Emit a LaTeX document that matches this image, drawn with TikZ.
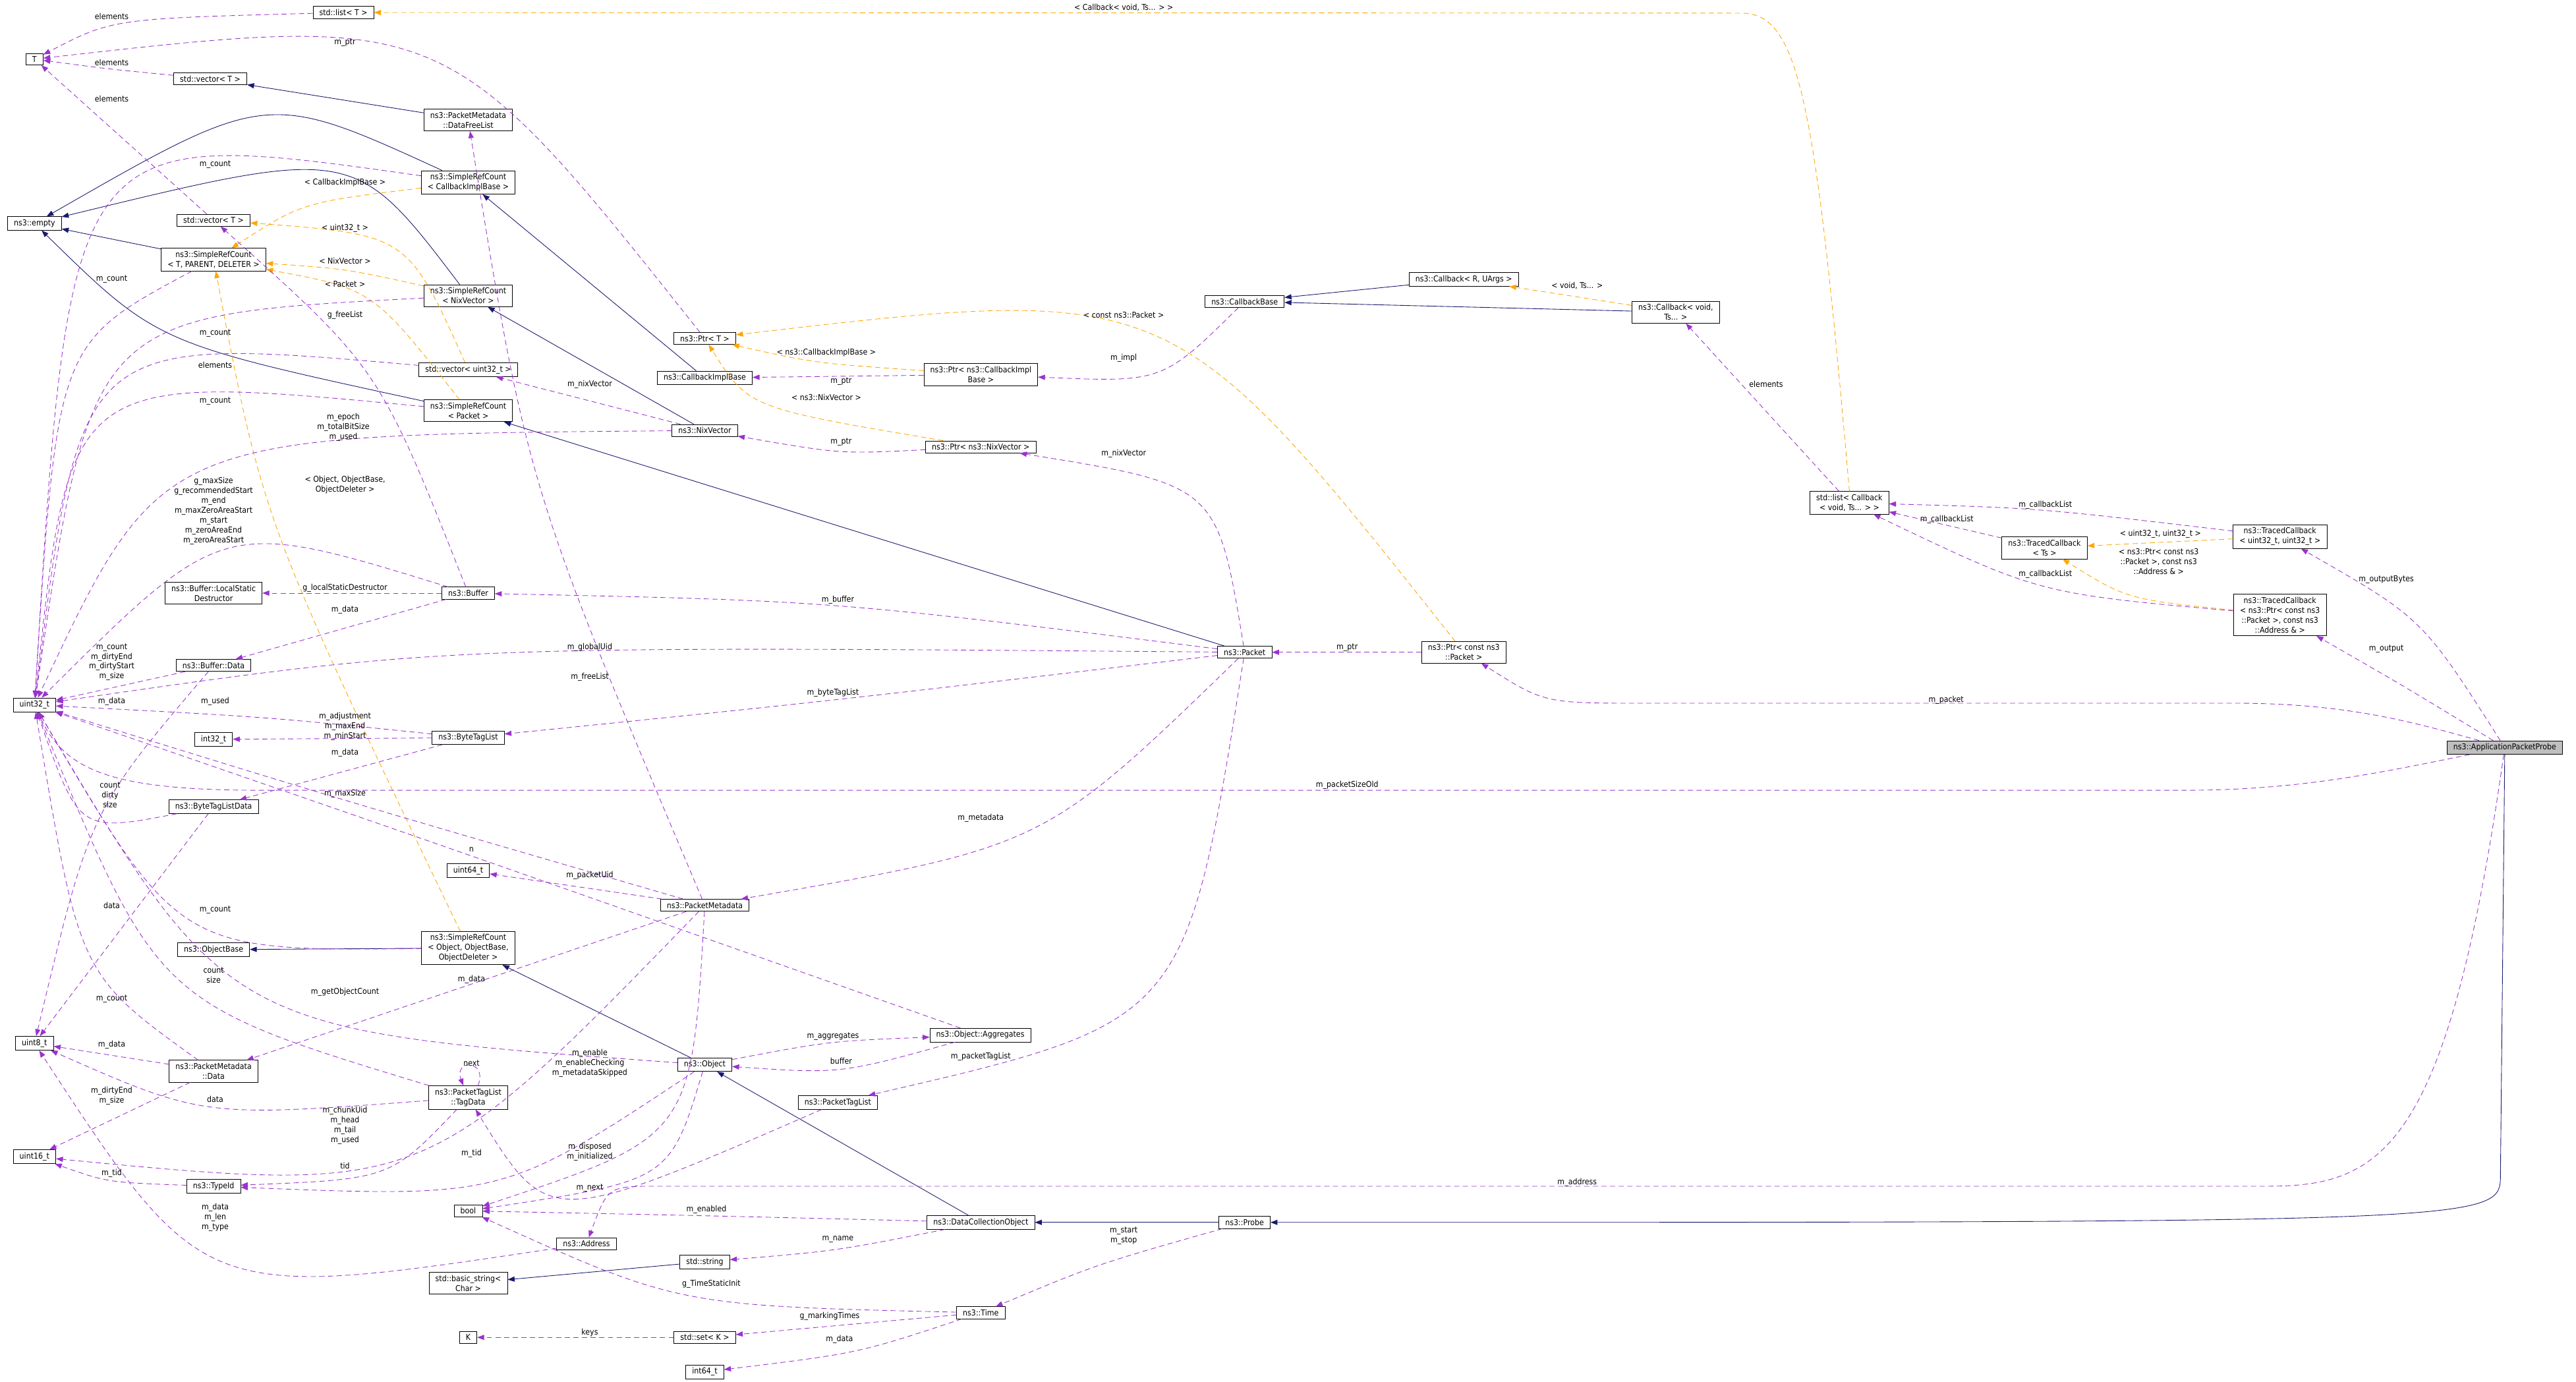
\documentclass[tikz,border=0pt]{standalone}
\usepackage{fontspec}
\setmainfont{DejaVu Sans Condensed}
\usetikzlibrary{arrows.meta,calc}
\definecolor{pc}{HTML}{9A32CD}
\definecolor{oc}{HTML}{FFA500}
\definecolor{nc}{HTML}{191970}
\tikzset{
 box/.style={draw=black,line width=0.9pt,fill=white,align=center,font=\fontsize{14}{17}\selectfont,inner xsep=11pt,inner ysep=5pt},
 lbl/.style={align=center,font=\fontsize{14}{17}\selectfont,inner sep=0pt},
 pe/.style={draw=pc,line width=1pt,dash pattern=on 9pt off 6pt,-{Triangle[length=12pt,width=9pt]}},
 oe/.style={draw=oc,line width=1pt,dash pattern=on 9pt off 6pt,-{Triangle[length=12pt,width=9pt]}},
 ne/.style={draw=nc,line width=1pt,-{Triangle[length=12pt,width=9pt]}},
}
\newcommand\E[4][pe]{\path ($(#2)!0.5!(#3)$) coordinate (tmpm); \draw[#1] (#2) .. controls ($(#4)!-0.3333!(tmpm)$) .. (#3);}
\newcommand\Ln[3][pe]{\draw[#1] (#2) -- (#3);}
\newcounter{lc}
\newcommand\Lb[2]{\stepcounter{lc}\node[lbl] (lab\arabic{lc}) at (#1) {#2};}
\begin{document}
\begin{tikzpicture}[x=0.1cm,y=-0.1cm]
\useasboundingbox (0,0) rectangle (1568,841);
% nodes
\node[box] (stdlistT) at (209,7.6) {std::list< T >};
\node[box] (T) at (21,36) {T};
\node[box] (vecT1) at (128,48) {std::vector< T >};
\node[box] (PMDFL) at (285,73) {ns3::PacketMetadata\\::DataFreeList};
\node[box] (SRCCIB) at (285,111) {ns3::SimpleRefCount\\< CallbackImplBase >};
\node[box] (empty) at (21,136) {ns3::empty};
\node[box] (vecT2) at (130,134) {std::vector< T >};
\node[box] (SRCTPD) at (130,158) {ns3::SimpleRefCount\\< T, PARENT, DELETER >};
\node[box] (SRCNix) at (285,180) {ns3::SimpleRefCount\\< NixVector >};
\node[box] (PtrT) at (429,206) {ns3::Ptr< T >};
\node[box] (CIB) at (429,230) {ns3::CallbackImplBase};
\node[box] (vecu32) at (285,225) {std::vector< uint32\_t >};
\node[box] (SRCPacket) at (285,250) {ns3::SimpleRefCount\\< Packet >};
\node[box] (Nix) at (429,262) {ns3::NixVector};
\node[box] (CBase) at (757.6,183.5) {ns3::CallbackBase};
\node[box] (CRU) at (891,170) {ns3::Callback< R, UArgs >};
\node[box] (CVoid) at (1020,190) {ns3::Callback< void,\\ Ts... >};
\node[box] (PtrCIB) at (597,228) {ns3::Ptr< ns3::CallbackImpl\\Base >};
\node[box] (PtrNix) at (597,272) {ns3::Ptr< ns3::NixVector >};
\node[box] (listCB) at (1125.7,306) {std::list< Callback\\< void, Ts... > >};
\node[box] (TCTs) at (1244.5,333.5) {ns3::TracedCallback\\< Ts >};
\node[box] (TCUU) at (1387.8,326.6) {ns3::TracedCallback\\< uint32\_t, uint32\_t >};
\node[box] (TCPtr) at (1387.8,374.3) {ns3::TracedCallback\\< ns3::Ptr< const ns3\\::Packet >, const ns3\\::Address \& >};
\node[box] (Buffer) at (285,361) {ns3::Buffer};
\node[box] (BufLSD) at (130,361) {ns3::Buffer::LocalStatic\\Destructor};
\node[box] (Packet) at (757.6,397) {ns3::Packet};
\node[box] (PtrCP) at (891,397) {ns3::Ptr< const ns3\\::Packet >};
\node[box] (BufData) at (130,405) {ns3::Buffer::Data};
\node[box] (u32) at (21,429) {uint32\_t};
\node[box] (i32) at (130,450) {int32\_t};
\node[box] (BTL) at (285,449) {ns3::ByteTagList};
\node[box] (BTLD) at (130,491) {ns3::ByteTagListData};
\node[box,fill={rgb,255:red,191;green,191;blue,191}] (App) at (1524.6,455) {ns3::ApplicationPacketProbe};
\node[box] (u64) at (285,530) {uint64\_t};
\node[box] (PM) at (429,551) {ns3::PacketMetadata};
\node[box] (OB) at (130,578) {ns3::ObjectBase};
\node[box] (SRCObj) at (285,577) {ns3::SimpleRefCount\\< Object, ObjectBase,\\ObjectDeleter >};
\node[box] (Agg) at (596.7,630) {ns3::Object::Aggregates};
\node[box] (u8) at (21,635) {uint8\_t};
\node[box] (PMD) at (130,652) {ns3::PacketMetadata\\::Data};
\node[box] (Obj) at (429,648) {ns3::Object};
\node[box] (TagData) at (285,668) {ns3::PacketTagList\\::TagData};
\node[box] (PTL) at (510,671) {ns3::PacketTagList};
\node[box] (u16) at (21,704) {uint16\_t};
\node[box] (TypeId) at (130,722) {ns3::TypeId};
\node[box] (bool) at (285,737) {bool};
\node[box] (DCO) at (597,744) {ns3::DataCollectionObject};
\node[box] (Probe) at (757.6,744) {ns3::Probe};
\node[box] (Addr) at (357,757) {ns3::Address};
\node[box] (str) at (429,768) {std::string};
\node[box] (bstr) at (285,781) {std::basic\_string<\\ Char >};
\node[box] (Time) at (597,799) {ns3::Time};
\node[box] (K) at (285,814) {K};
\node[box] (setK) at (429,814) {std::set< K >};
\node[box] (i64) at (429,835) {int64\_t};
\coordinate (cbk) at (1060,8);
\coordinate (pk) at (1522,715);
\coordinate (ad1) at (1380,722);
\coordinate (ad2) at (400,722);
\coordinate (so1) at (1330,481);
\coordinate (so2) at (160,481);
\coordinate (pp1) at (1360,428);
\coordinate (pp2) at (1000,428);
% navy inheritance
\Ln[ne]{PMDFL}{vecT1}
\E[ne]{SRCCIB}{empty}{160,72}
\E[ne]{SRCNix}{empty}{200,106}
\Ln[ne]{SRCTPD}{empty}
\E[ne]{SRCPacket}{empty}{110,205}
\Ln[ne]{CIB}{SRCCIB}
\Ln[ne]{Nix}{SRCNix}
\Ln[ne]{Packet}{SRCPacket}
\Ln[ne]{CRU}{CBase}
\Ln[ne]{CVoid}{CBase}
\Ln[ne]{SRCObj}{OB}
\Ln[ne]{Obj}{SRCObj}
\Ln[ne]{DCO}{Obj}
\Ln[ne]{Probe}{DCO}
\draw[ne] (App.south) -- (pk) .. controls (1522,744) .. (Probe);
\Ln[ne]{str}{bstr}
% orange templates
\draw[oe] (listCB.north) .. controls (1105,60) and (1095,8) .. (cbk) -- (stdlistT);
\E[oe]{SRCCIB}{SRCTPD}{190,126}
\E[oe]{vecu32}{vecT2}{238,152}
\E[oe]{SRCNix}{SRCTPD}{210,165}
\E[oe]{SRCPacket}{SRCTPD}{222,183}
\E[oe]{SRCObj}{SRCTPD}{172,330}
\E[oe]{PtrCP}{PtrT}{700,205}
\E[oe]{PtrCIB}{PtrT}{500,220}
\E[oe]{PtrNix}{PtrT}{470,246}
\Ln[oe]{CVoid}{CRU}
\Ln[oe]{TCUU}{TCTs}
\E[oe]{TCPtr}{TCTs}{1300,362}
% purple members
\E{stdlistT}{T}{80,14}
\E{PtrT}{T}{260,36}
\E{vecT1}{T}{68,42}
\Ln{vecT2}{T}
\E{SRCCIB}{u32}{70,125}
\E{SRCTPD}{u32}{45,230}
\E{SRCNix}{u32}{80,220}
\E{vecu32}{u32}{75,235}
\E{SRCPacket}{u32}{70,255}
\E{Nix}{u32}{130,285}
\E{Buffer}{u32}{140,335}
\E{Buffer}{vecT2}{225,230}
\Ln{Buffer}{BufLSD}
\Ln{Buffer}{BufData}
\E{Packet}{u32}{300,398}
\E{PM}{PMDFL}{330,300}
\Ln{BufData}{u32}
\E{BufData}{u8}{60,500}
\E{Packet}{BTL}{507,426}
\E{BTL}{u32}{160,437}
\Ln{BTL}{i32}
\Ln{BTL}{BTLD}
\E{PM}{u32}{210,487}
\E{BTLD}{u32}{55,495}
\Ln{BTLD}{u8}
\draw[pe] (App) .. controls (1450,470) and (1400,481) .. (so1) -- (so2) .. controls (70,481) and (40,470) .. (u32);
\E{Agg}{u32}{287,521}
\Ln{PM}{u64}
\E{SRCObj}{u32}{120,560}
\E{Obj}{u32}{160,605}
\E{TagData}{u32}{110,595}
\E{Obj}{Agg}{507,635}
\E{Agg}{Obj}{512,650}
\Ln{PM}{PMD}
\E{PMD}{u32}{55,580}
\Ln{PMD}{u8}
\Ln{PMD}{u16}
\draw[pe] ([xshift=0.6cm]TagData.north) .. controls +(0.6cm,1.6cm) and +(-0.6cm,1.6cm) .. ([xshift=-0.3cm]TagData.north);
\E{TagData}{u8}{131,673}
\E{TagData}{TypeId}{230,712}
\E{PM}{u16}{250,702}
\E{PM}{bool}{405,680}
\E{Obj}{bool}{395,712}
\E{Obj}{TypeId}{300,718}
\E{PTL}{TagData}{350,728}
\E{TypeId}{u16}{68,718}
\E{Addr}{u8}{140,768}
\E{Packet}{PM}{625,505}
\E{Packet}{PTL}{700,600}
\E{Packet}{Buffer}{510,369}
\E{Packet}{PtrNix}{725,305}
\Ln{PtrCP}{Packet}
\Ln{PtrCIB}{CIB}
\E{PtrNix}{Nix}{512,274}
\Ln{Nix}{vecu32}
\E{CBase}{PtrCIB}{700,226}
\Ln{listCB}{CVoid}
\E{TCUU}{listCB}{1245,311}
\Ln{TCTs}{listCB}
\E{TCPtr}{listCB}{1245,356}
\E{App}{TCUU}{1470,380}
\E{App}{TCPtr}{1460,416}
\draw[pe] (App) .. controls (1470,440) and (1430,428) .. (pp1) -- (pp2) .. controls (940,428) .. (PtrCP);
\draw[pe] (App) .. controls (1490,700) and (1450,722) .. (ad1) -- (ad2) .. controls (370,722) .. (Addr);
\E{DCO}{bool}{430,740}
\E{DCO}{str}{510,760}
\E{Probe}{Time}{670,770}
\E{Time}{bool}{420,788}
\Ln{Time}{setK}
\E{Time}{i64}{520,822}
\Ln{setK}{K}
% labels
\Lb{684,4.5}{< Callback< void, Ts... > >}
\Lb{68,10}{elements}
\Lb{210,26}{m\_ptr}
\Lb{68,38}{elements}
\Lb{68,60}{elements}
\Lb{131,100}{m\_count}
\Lb{210,111}{< CallbackImplBase >}
\Lb{210,139}{< uint32\_t >}
\Lb{210,159}{< NixVector >}
\Lb{210,173}{< Packet >}
\Lb{68,170}{m\_count}
\Lb{210,192}{g\_freeList}
\Lb{131,203}{m\_count}
\Lb{131,222}{elements}
\Lb{131,244}{m\_count}
\Lb{209,260}{m\_epoch\\m\_totalBitSize\\m\_used}
\Lb{130,311}{g\_maxSize\\g\_recommendedStart\\m\_end\\m\_maxZeroAreaStart\\m\_start\\m\_zeroAreaEnd\\m\_zeroAreaStart}
\Lb{210,295}{< Object, ObjectBase,\\ObjectDeleter >}
\Lb{210,358}{g\_localStaticDestructor}
\Lb{210,371}{m\_data}
\Lb{359,394}{m\_globalUid}
\Lb{359,412}{m\_freeList}
\Lb{68,403}{m\_count\\m\_dirtyEnd\\m\_dirtyStart\\m\_size}
\Lb{68,427}{m\_data}
\Lb{131,427}{m\_used}
\Lb{210,442}{m\_adjustment\\m\_maxEnd\\m\_minStart}
\Lb{510,365}{m\_buffer}
\Lb{507,421.6}{m\_byteTagList}
\Lb{359,234}{m\_nixVector}
\Lb{512,232}{m\_ptr}
\Lb{503,242}{< ns3::NixVector >}
\Lb{512,269}{m\_ptr}
\Lb{503,214.5}{< ns3::CallbackImplBase >}
\Lb{210,458}{m\_data}
\Lb{210,483}{m\_maxSize}
\Lb{67,484}{count\\dirty\\size}
\Lb{287,517}{n}
\Lb{359,533}{m\_packetUid}
\Lb{68,551}{data}
\Lb{131,554}{m\_count}
\Lb{130,593.5}{count\\size}
\Lb{210,604}{m\_getObjectCount}
\Lb{287,596}{m\_data}
\Lb{68,608}{m\_count}
\Lb{68,636}{m\_data}
\Lb{287,647}{next}
\Lb{359,647}{m\_enable\\m\_enableChecking\\m\_metadataSkipped}
\Lb{68,667}{m\_dirtyEnd\\m\_size}
\Lb{131,669}{data}
\Lb{210,685}{m\_chunkUid\\m\_head\\m\_tail\\m\_used}
\Lb{287,702}{m\_tid}
\Lb{210,709.5}{tid}
\Lb{68,714}{m\_tid}
\Lb{359,701}{m\_disposed\\m\_initialized}
\Lb{359,723}{m\_next}
\Lb{430,736}{m\_enabled}
\Lb{131,741}{m\_data\\m\_len\\m\_type}
\Lb{510,754.5}{m\_name}
\Lb{433,781.5}{g\_TimeStaticInit}
\Lb{505,801}{g\_markingTimes}
\Lb{359,811}{keys}
\Lb{511,815}{m\_data}
\Lb{820,478}{m\_packetSizeOld}
\Lb{597,498}{m\_metadata}
\Lb{507,631}{m\_aggregates}
\Lb{512,645.6}{buffer}
\Lb{597,643}{m\_packetTagList}
\Lb{960,719.6}{m\_address}
\Lb{684,752}{m\_start\\m\_stop}
\Lb{960,174}{< void, Ts... >}
\Lb{684,191.7}{< const ns3::Packet >}
\Lb{684,218}{m\_impl}
\Lb{684,276}{m\_nixVector}
\Lb{820,394}{m\_ptr}
\Lb{1075,234}{elements}
\Lb{1245,307.5}{m\_callbackList}
\Lb{1185,316}{m\_callbackList}
\Lb{1315,325}{< uint32\_t, uint32\_t >}
\Lb{1314,341.8}{< ns3::Ptr< const ns3\\::Packet >, const ns3\\::Address \& >}
\Lb{1245,349.6}{m\_callbackList}
\Lb{1452.5,352.9}{m\_outputBytes}
\Lb{1452.5,394.8}{m\_output}
\Lb{1184.6,426}{m\_packet}
\end{tikzpicture}
\end{document}
